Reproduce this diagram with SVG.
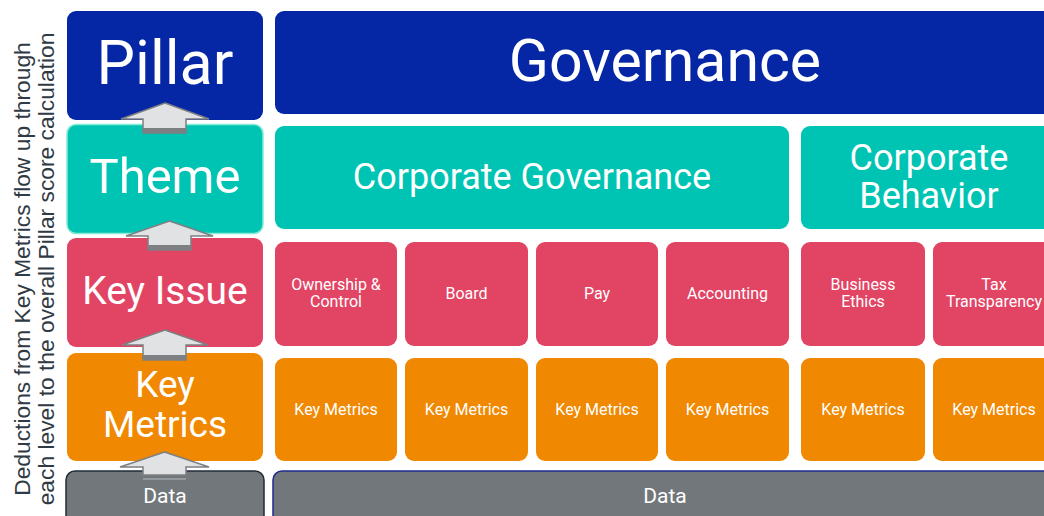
<svg xmlns="http://www.w3.org/2000/svg" width="1044" height="516" viewBox="0 0 1044 516">
<style>
text{font-family:Roboto,"Liberation Sans",sans-serif;fill:#ffffff;text-anchor:middle}
.pil{fill:#0527a6}
.thm{fill:#00c4b3}
.iss{fill:#e24464}
.met{fill:#f08801}
.dat{fill:#72777b}
.sm{font-size:16px}
.side{font-family:"Liberation Sans",Arial,sans-serif;fill:#303a44;font-size:22.8px}
.arr{fill:#e1e2e4;stroke:#7d7f82;stroke-width:1.5}
.sh{fill:#7d7f82}
</style>
<g id="side-note">
<text class="side" transform="translate(30,269) rotate(-90)">Deductions from Key Metrics flow up through</text>
<text class="side" transform="translate(54,269) rotate(-90)">each level to the overall Pillar score calculation</text>
</g>
<g id="pillar"><rect class="pil" x="67" y="11" width="196" height="109" rx="9"/><text x="165" y="84" font-size="61">Pillar</text></g>
<g id="theme"><rect class="thm" x="67" y="124.5" width="196" height="109" rx="9" stroke="#86ecd6" stroke-width="1.5"/><text x="165" y="193" font-size="49">Theme</text></g>
<g id="key-issue"><rect class="iss" x="67" y="238" width="196" height="109" rx="9"/><text x="165" y="304" font-size="39">Key Issue</text></g>
<g id="key-metrics"><rect class="met" x="67" y="353" width="196" height="108" rx="9"/><text x="165" y="397" font-size="37">Key</text><text x="165" y="437" font-size="37">Metrics</text></g>
<g id="data-left"><rect class="dat" x="66" y="471" width="198" height="60" rx="9" stroke="#1f2d3a" stroke-width="1.5"/><text x="165" y="503" font-size="21">Data</text></g>
<g id="governance"><rect class="pil" x="275" y="11" width="790" height="103" rx="9"/><text x="665" y="81" font-size="59">Governance</text></g>
<g id="corporate-governance"><rect class="thm" x="275" y="126" width="514" height="103" rx="9"/><text x="532" y="189" font-size="36">Corporate Governance</text></g>
<g id="corporate-behavior"><rect class="thm" x="801" y="126" width="260" height="103" rx="9"/><text x="929" y="170" font-size="36">Corporate</text><text x="929" y="208" font-size="36">Behavior</text></g>
<g id="ownership-control"><rect class="iss" x="275" y="242" width="122" height="104" rx="9"/><text class="sm" x="336" y="290">Ownership &amp;</text><text class="sm" x="336" y="307">Control</text></g>
<g id="board"><rect class="iss" x="405" y="242" width="123" height="104" rx="9"/><text class="sm" x="466.5" y="299">Board</text></g>
<g id="pay"><rect class="iss" x="536" y="242" width="122" height="104" rx="9"/><text class="sm" x="597" y="299">Pay</text></g>
<g id="accounting"><rect class="iss" x="666" y="242" width="123" height="104" rx="9"/><text class="sm" x="727.5" y="299">Accounting</text></g>
<g id="business-ethics"><rect class="iss" x="801" y="242" width="124" height="104" rx="9"/><text class="sm" x="863" y="290">Business</text><text class="sm" x="863" y="307">Ethics</text></g>
<g id="tax-transparency"><rect class="iss" x="933" y="242" width="130" height="104" rx="9"/><text class="sm" x="994" y="290">Tax</text><text class="sm" x="994" y="307">Transparency</text></g>
<g id="km1"><rect class="met" x="275" y="358" width="122" height="103" rx="9"/><text class="sm" x="336" y="415">Key Metrics</text></g>
<g id="km2"><rect class="met" x="405" y="358" width="123" height="103" rx="9"/><text class="sm" x="466.5" y="415">Key Metrics</text></g>
<g id="km3"><rect class="met" x="536" y="358" width="122" height="103" rx="9"/><text class="sm" x="597" y="415">Key Metrics</text></g>
<g id="km4"><rect class="met" x="666" y="358" width="123" height="103" rx="9"/><text class="sm" x="727.5" y="415">Key Metrics</text></g>
<g id="km5"><rect class="met" x="801" y="358" width="124" height="103" rx="9"/><text class="sm" x="863" y="415">Key Metrics</text></g>
<g id="km6"><rect class="met" x="933" y="358" width="130" height="103" rx="9"/><text class="sm" x="994" y="415">Key Metrics</text></g>
<g id="data-main"><rect class="dat" x="273" y="471" width="800" height="60" rx="9" stroke="#1c2b8e" stroke-width="1.5"/><text x="665" y="503" font-size="21">Data</text></g>
<g id="connectors">
<polygon class="arr" points="165,103 209,119 186,119 186,133 143,133 143,119 121,119"/>
<rect class="sh" x="143" y="128" width="43" height="5"/>
<polygon class="arr" points="169.5,221 213,236 191,236 191,250 148,250 148,236 126,236"/>
<rect class="sh" x="148" y="245" width="43" height="5"/>
<polygon class="arr" points="165,330 208,345 186,345 186,360 143,360 143,345 122,345"/>
<rect class="sh" x="143" y="355" width="43" height="5"/>
<polygon class="arr" points="164.5,452 209,467 186,467 186,475 143,475 143,467 120,467"/>
<line x1="143" y1="479" x2="186" y2="479" stroke="#b9bbbe" stroke-width="1"/>
</g>
</svg>
